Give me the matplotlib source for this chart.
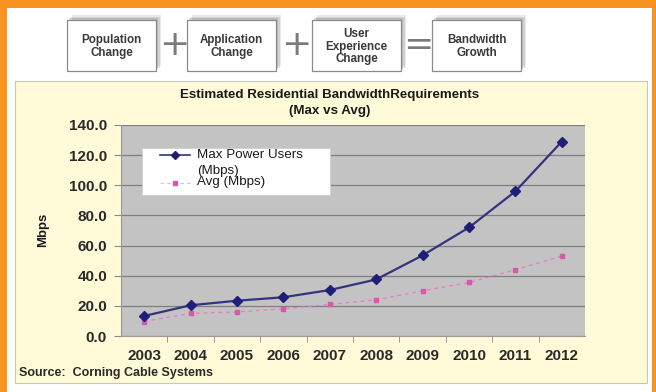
import matplotlib
matplotlib.use("Agg")
import matplotlib.pyplot as plt
from matplotlib.patches import Rectangle
from matplotlib.lines import Line2D

# ---- data ----
years = ["2003", "2004", "2005", "2006", "2007", "2008", "2009", "2010", "2011", "2012"]
max_power_users = [13.3, 20.4, 23.4, 25.7, 30.5, 37.5, 53.5, 72.0, 96.0, 129.0]
avg_users = [9.6, 15.0, 16.0, 18.0, 21.0, 24.0, 30.0, 35.5, 44.0, 53.0]
y_ticks = [0, 20, 40, 60, 80, 100, 120, 140]
series_names = ["Max Power Users\n(Mbps)", "Avg (Mbps)"]
formula_boxes = ["Population\nChange", "Application\nChange", "User\nExperience\nChange", "Bandwidth\nGrowth"]
formula_ops = ["+", "+", "="]

W, H = 656, 392
plt.rcParams["font.family"] = ["Liberation Sans", "DejaVu Sans"]

fig = plt.figure(figsize=(W / 100, H / 100), dpi=100)
ORANGE = "#F7931E"
fig.patch.set_facecolor(ORANGE)


def pixel_axes(z):
    a = fig.add_axes([0, 0, 1, 1], zorder=z)
    a.set_xlim(0, W)
    a.set_ylim(H, 0)
    a.axis("off")
    a.patch.set_alpha(0)
    return a


bg = pixel_axes(0)

# white card inside the orange frame
bg.add_patch(Rectangle((7, 8), 645, 392, facecolor="white", edgecolor="none"))
# cream chart panel
bg.add_patch(Rectangle((15, 81), 632, 302, facecolor="#FFFBD8", edgecolor="#C8C6B8", lw=0.8))

# formula boxes along the top
box_x = [67, 187, 312, 432]
box_w = 89
box_top, box_bot = 20, 71
for x0, label in zip(box_x, formula_boxes):
    for k, alpha in ((5, 0.18), (3.5, 0.25), (2, 0.3)):
        bg.add_patch(Rectangle((x0 + k, box_top - k), box_w, box_bot - box_top,
                               facecolor="#8A8A8A", edgecolor="none", alpha=alpha))
    bg.add_patch(Rectangle((x0, box_top), box_w, box_bot - box_top,
                           facecolor="white", edgecolor="#8A8A8A", lw=0.9))
    bg.text(x0 + box_w / 2, (box_top + box_bot) / 2 + 1, label, ha="center", va="center",
            fontsize=8.4, fontweight="bold", color="#3A3A3A", linespacing=1.1)
op_x = [174, 296, 418]
for x, op in zip(op_x, formula_ops):
    bg.text(x, 45, op, ha="center", va="center", fontsize=26, color="#7A7A7A",
            family="DejaVu Sans")

# chart titles
bg.text(330, 95, "Estimated Residential BandwidthRequirements", ha="center", va="center",
        fontsize=9.6, fontweight="bold", color="#1A1A1A")
bg.text(330, 111, "(Max vs Avg)", ha="center", va="center",
        fontsize=9.6, fontweight="bold", color="#1A1A1A")
bg.text(43, 230, "Mbps", ha="center", va="center", rotation=90,
        fontsize=9.5, fontweight="bold", color="#1A1A1A")
bg.text(19, 373, "Source:  Corning Cable Systems", ha="left", va="center",
        fontsize=9, fontweight="bold", color="#2A2A2A")

# ---- plot area ----
left, right, top, bottom = 121, 585, 125, 336
ax = fig.add_axes([left / W, 1 - bottom / H, (right - left) / W, (bottom - top) / H], zorder=1)
ax.set_facecolor("#C3C3C3")
xs = list(range(len(years)))
ax.set_xlim(-0.5, len(years) - 0.5)
ax.set_ylim(0, 140)
ax.set_yticks(y_ticks)
ax.set_yticklabels([f"{v:.1f}" for v in y_ticks], fontsize=11, fontweight="bold", color="#2A2A2A")
ax.set_xticks(xs)
ax.set_xticklabels(years, fontsize=11, fontweight="bold", color="#2A2A2A")
ax.set_xticks([x + 0.5 for x in xs[:-1]], minor=True)
ax.tick_params(axis="x", which="major", length=0, pad=9)
ax.tick_params(axis="x", which="minor", length=4, color="#8A8A8A")
ax.tick_params(axis="y", length=5, color="#8A8A8A", pad=5)
ax.grid(axis="y", color="#7E7E7E", lw=0.9)
ax.set_axisbelow(True)
for side in ("top", "right"):
    ax.spines[side].set_visible(False)
ax.spines["left"].set_color("#9A9A9A")
ax.spines["bottom"].set_color("#9A9A9A")

ax.plot(xs, avg_users, color="#E879C8", lw=0.9, ls=(0, (3, 3)), marker="s", ms=3.2,
        mfc="#D65AA8", mec="#D65AA8", zorder=3)
ax.plot(xs, max_power_users, color="#34347E", lw=1.6, marker="D", ms=5.5,
        mfc="#1F1F78", mec="#1F1F78", zorder=4)

# ---- legend (drawn above the plot area) ----
lg = pixel_axes(2)
lg.add_patch(Rectangle((142, 148), 188, 47, facecolor="white", edgecolor="#D0D0D0", lw=0.6))
lg.add_line(Line2D([160, 190], [155, 155], color="#34347E", lw=1.2))
lg.plot([175], [155], marker="D", ms=3.8, color="#1F1F78")
lg.add_line(Line2D([160, 190], [183, 183], color="#F0B0DC", lw=0.8, ls=(0, (3, 3))))
lg.plot([175], [183], marker="s", ms=3, color="#D65AA8")
name_first, name_second = series_names[0].split("\n")
lg.text(197, 155, name_first, ha="left", va="center", fontsize=9.6, color="#1A1A1A")
lg.text(197, 171, name_second, ha="left", va="center", fontsize=9.6, color="#1A1A1A")
lg.text(197, 182, series_names[1], ha="left", va="center", fontsize=9.6, color="#1A1A1A")

fig.savefig("out.png", dpi=100, facecolor=ORANGE)
